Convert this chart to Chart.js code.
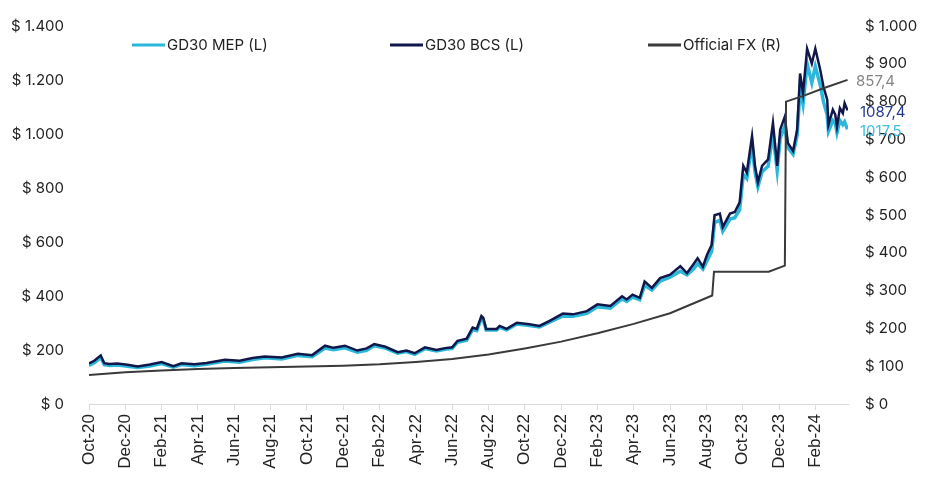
<!DOCTYPE html>
<html>
<head>
<meta charset="utf-8">
<script src="https://cdn.jsdelivr.net/npm/chart.js@4.4.1/dist/chart.umd.min.js"></script>
<style>
  body { margin: 0; background: #fff; }
  #wrap { width: 926px; height: 477px; position: relative; }
</style>
</head>
<body>
<div id="wrap"><canvas id="fxChart"></canvas></div>
<script>
// tick labels, every two months from Oct-20
const tickLabels = ['Oct-20','Dec-20','Feb-21','Apr-21','Jun-21','Aug-21','Oct-21','Dec-21','Feb-22','Apr-22',
    'Jun-22','Aug-22','Oct-22','Dec-22','Feb-23','Apr-23','Jun-23','Aug-23','Oct-23','Dec-23','Feb-24'];

const seriesNames = ['GD30 MEP (L)', 'GD30 BCS (L)', 'Official FX (R)'];

// GD30 implied rates
const gdDates = ['2020-10-01','2020-10-10','2020-10-21','2020-10-27','2020-11-05','2020-11-18','2020-12-05','2020-12-22',
    '2021-01-12','2021-02-01','2021-02-19','2021-03-04','2021-03-26','2021-04-15','2021-05-16','2021-06-10','2021-07-01',
    '2021-07-22','2021-08-20','2021-09-16','2021-10-10','2021-11-01','2021-11-15','2021-12-04','2021-12-25','2022-01-10',
    '2022-01-23','2022-02-10','2022-03-01','2022-03-16','2022-03-30','2022-04-16','2022-05-05','2022-05-20','2022-06-01',
    '2022-06-10','2022-06-25','2022-07-05','2022-07-12','2022-07-20','2022-07-23','2022-07-28','2022-08-15','2022-08-20',
    '2022-09-01','2022-09-18','2022-10-09','2022-10-26','2022-11-12','2022-12-04','2022-12-21','2023-01-14','2023-02-01',
    '2023-02-21','2023-03-12','2023-03-20','2023-03-30','2023-04-11','2023-04-19','2023-05-01','2023-05-15','2023-06-01',
    '2023-06-18','2023-06-29','2023-07-09','2023-07-17','2023-07-26','2023-08-02','2023-08-10','2023-08-15','2023-08-24',
    '2023-08-29','2023-09-10','2023-09-18','2023-09-26','2023-10-02','2023-10-08','2023-10-17','2023-10-22','2023-10-27',
    '2023-11-03','2023-11-13','2023-11-21','2023-11-28','2023-12-03','2023-12-11','2023-12-16','2023-12-25','2024-01-01',
    '2024-01-06','2024-01-11','2024-01-18','2024-01-26','2024-02-01','2024-02-09','2024-02-14','2024-02-20','2024-02-22',
    '2024-02-29','2024-03-04','2024-03-07','2024-03-12','2024-03-17','2024-03-20','2024-03-25'];

const gdBcs = [150,160,180,151,148,150,145,139,
    146,155,140,151,147,152,164,160,170,
    176,172,186,181,216,208,216,198,206,
    222,212,192,198,188,210,200,207,210,
    234,242,283,278,326,320,278,278,289,
    278,301,295,289,308,335,332,344,369,
    363,399,387,405,393,454,430,466,479,
    510,485,515,540,509,552,589,699,705,
    656,705,711,747,882,857,992,882,821,
    882,906,1041,882,1016,1065,967,937,1016,
    1224,1151,1316,1261,1316,1236,1175,1127,1034,
    1090,1072,1028,1096,1077,1114,1087.4];

const gdMep = [143,153,172,146,143,144,140,135,
    141,150,136,146,142,147,159,155,165,
    171,167,180,175,207,201,208,192,199,
    216,207,188,194,184,205,196,203,206,
    229,236,276,272,318,314,274,274,284,
    275,296,291,285,303,326,325,336,360,
    355,389,380,396,386,440,422,455,470,
    492,478,498,520,500,530,565,672,680,
    640,685,690,720,850,835,960,860,805,
    860,880,1000,865,985,1030,950,925,995,
    1170,1110,1260,1190,1250,1180,1120,1070,1010,
    1050,1040,1005,1050,1035,1045,1017.5];

// official exchange rate (right axis)
const fxDates = ['2020-10-01','2020-12-01','2021-02-01','2021-04-01','2021-06-01','2021-08-01','2021-10-01','2021-12-01',
    '2022-02-01','2022-04-01','2022-06-01','2022-08-01','2022-10-01','2022-12-01','2023-02-01','2023-04-01','2023-06-01',
    '2023-08-11','2023-08-14','2023-11-14','2023-12-11','2023-12-13','2024-01-15','2024-02-15','2024-03-25'];
const fxValues = [77,84,88.5,92.5,95,97,99,101.5,
    105,111,119,131,147,165,187,212,240,
    287,350,350,366,800,817,836,857.4];

const colors = ['#2bb7d9', '#11174a', '#3a3a3a'];
const labelColors = ['#3dc0e0', '#22398a', '#858585'];

// months since 1 Oct 2020
function monthIndex(s) {
    const p = s.split('-').map(Number);
    const dim = new Date(p[0], p[1], 0).getDate();
    return (p[0] - 2020) * 12 + (p[1] - 10) + (p[2] - 1) / dim;
}

function toPoints(dates, vals) {
    return dates.map(function (d, i) { return { x: monthIndex(d), y: vals[i] }; });
}

function money(v) {
    return '$ ' + Number(v).toLocaleString('de-DE');
}

const overlay = {
    id: 'overlay',
    afterDatasetsDraw: function (chart) {
        const ctx = chart.ctx;
        const area = chart.chartArea;
        ctx.save();
        // end labels
        ctx.font = '15px Inter';
        ctx.textAlign = 'left';
        ctx.textBaseline = 'middle';
        chart.data.datasets.forEach(function (ds, i) {
            const meta = chart.getDatasetMeta(i);
            const last = meta.data[meta.data.length - 1];
            ctx.fillStyle = labelColors[i];
            const txt = ds.data[ds.data.length - 1].y.toLocaleString('de-DE', { minimumFractionDigits: 1, useGrouping: false });
            ctx.fillText(txt, area.right + (i == 2 ? 8 : 12), last.y + 2);
        });
        // legend over the plot
        let x = area.left + 43;
        const y = 45;
        chart.data.datasets.forEach(function (ds, i) {
            ctx.strokeStyle = colors[i];
            ctx.lineWidth = 3;
            ctx.beginPath();
            ctx.moveTo(x, y);
            ctx.lineTo(x + 33, y);
            ctx.stroke();
            ctx.fillStyle = '#222';
            ctx.fillText(ds.label, x + 35, y);
            x += 258;
        });
        ctx.restore();
    }
};

const data = {
    datasets: [
        {
            label: seriesNames[0],
            data: toPoints(gdDates, gdMep),
            borderColor: colors[0],
            borderWidth: 3.5,
            yAxisID: 'yL',
            order: 2
        },
        {
            label: seriesNames[1],
            data: toPoints(gdDates, gdBcs),
            borderColor: colors[1],
            borderWidth: 2.5,
            yAxisID: 'yL',
            order: 1
        },
        {
            label: seriesNames[2],
            data: toPoints(fxDates, fxValues),
            borderColor: colors[2],
            borderWidth: 2,
            yAxisID: 'yR',
            order: 0
        }
    ]
};

const config = {
    type: 'line',
    data: data,
    options: {
        responsive: true,
        maintainAspectRatio: false,
        animation: false,
        layout: { padding: { top: 22 } },
        elements: { point: { radius: 0 }, line: { tension: 0 } },
        plugins: {
            legend: { display: false },
            tooltip: { enabled: false }
        },
        scales: {
            x: {
                type: 'linear',
                min: 0,
                max: 41.8,
                afterBuildTicks: function (scale) {
                    scale.ticks = scale.ticks.filter(function (t) { return t.value % 2 === 0; });
                },
                afterFit: function (scale) { scale.height = 73; },
                ticks: {
                    stepSize: 2,
                    autoSkip: false,
                    minRotation: 90,
                    maxRotation: 90,
                    padding: 4,
                    color: '#222',
                    font: { family: 'Liberation Sans', size: 17 },
                    callback: function (v) { return tickLabels[v / 2]; }
                },
                grid: { drawOnChartArea: false, tickLength: 6, color: '#d9d9d9' },
                border: { color: '#d9d9d9' }
            },
            yL: {
                position: 'left',
                min: 0,
                max: 1400,
                afterFit: function (scale) { scale.width = 89; },
                ticks: {
                    stepSize: 200,
                    padding: 17,
                    color: '#222',
                    font: { family: 'Inter', size: 15 },
                    callback: money
                },
                grid: { display: false },
                border: { display: false }
            },
            yR: {
                position: 'right',
                min: 0,
                max: 1000,
                afterFit: function (scale) { scale.width = 78; },
                ticks: {
                    stepSize: 100,
                    padding: 9,
                    color: '#222',
                    font: { family: 'Inter', size: 15 },
                    callback: money
                },
                grid: { display: false },
                border: { display: false }
            }
        }
    },
    plugins: [overlay]
};

const fxChart = new Chart(document.getElementById('fxChart'), config);
</script>
</body>
</html>
